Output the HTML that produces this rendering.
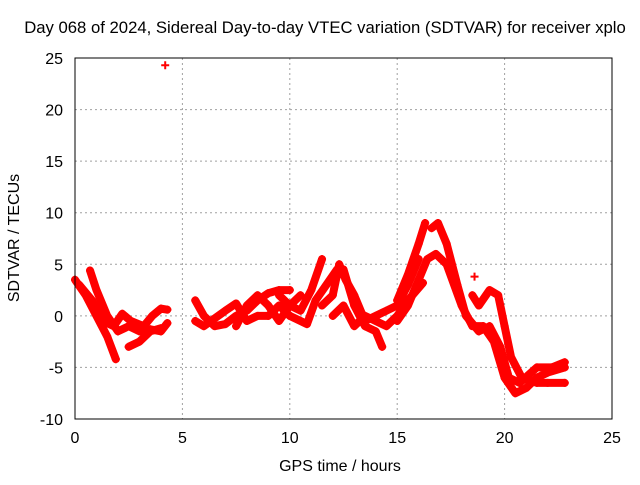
<!DOCTYPE html>
<html><head><meta charset="utf-8"><style>
body{margin:0;background:#fff}
svg text{font-family:"Liberation Sans",sans-serif;font-size:16px;fill:#000}
</style></head><body>
<svg id="c" width="640" height="480">
<text x="325" y="33" text-anchor="middle" style="font-size:16.7px">Day 068 of 2024, Sidereal Day-to-day VTEC variation (SDTVAR) for receiver xplo</text>
<text x="340" y="471" text-anchor="middle">GPS time / hours</text>
<text transform="translate(19,238) rotate(-90)" text-anchor="middle">SDTVAR / TECUs</text>
<g id="grid"></g><g id="marks"></g>
<rect x="75" y="58" width="537" height="361" fill="none" stroke="#000"/>
</svg>
<script>
const xTicks=[0,5,10,15,20,25];
const yTicks=[-10,-5,0,5,10,15,20,25];
const track1=[[0,3.5],[0.5,2],[1,0],[1.5,-2],[1.9,-4.2]];
const track2=[[0.7,4.4],[1,2.5],[1.5,0],[2,-1.5],[2.5,-1],[3,-1.5],[3.5,-1.3],[4,-1.5],[4.3,-0.7]];
const track3=[[0.2,3],[0.8,1.5],[1.3,-0.5],[1.8,-1],[2.2,0.2],[2.6,-0.5],[3.2,-1],[3.6,0],[4,0.7],[4.3,0.6]];
const track4=[[2.5,-3],[3,-2.5],[3.5,-1.5],[4,-1.2]];
const track5=[[5.6,1.5],[6,0],[6.5,-1],[7,-0.8],[7.5,0],[8,0.5],[8.5,1.5],[9,2.2],[9.5,2.5],[10,2.5]];
const track6=[[5.6,-0.5],[6,-1],[7,0.5],[7.5,1.2],[8,-0.5],[8.5,0],[9,0],[9.5,1],[10,0]];
const track7=[[7.5,-1],[8,1],[8.5,2],[9,1],[9.5,-0.5],[10,1],[10.5,2]];
const track8=[[9.5,2],[10,1],[10.5,0.5],[11,2.5],[11.5,5.5]];
const track9=[[10,0],[10.5,-0.5],[10.8,-0.8],[11.2,1.5],[11.7,3],[12.2,4.5],[12.5,4.5],[13,1],[13.5,-1],[14,-1.5],[14.3,-3]];
const track10=[[11.5,1],[12,2],[12.3,5],[12.6,3.5],[13,2],[13.5,-0.5],[14,0],[14.5,0.5],[15,1],[15.5,3],[16,5.5]];
const track11=[[12,0],[12.5,1],[13,-1],[13.5,0],[14,-0.5],[14.5,-1],[15,0],[15.5,1.5],[16.2,3.2]];
const track12=[[15,1.5],[15.5,4],[16,7],[16.3,9]];
const track13=[[15,-0.5],[15.5,1],[16,3.5],[16.4,5.5],[16.8,6],[17.3,5],[18,1],[18.5,-1],[19,-1],[19.5,-2.5],[20,-6],[20.5,-7.5],[21,-7],[21.5,-6],[22,-5.5],[22.8,-5]];
const track14=[[16.6,8.5],[16.9,9],[17.3,7],[17.8,3],[18.2,0],[18.8,-1.5],[19.3,-1],[19.8,-3],[20.2,-6],[20.7,-6.5],[21.5,-5],[22.2,-5],[22.8,-4.5]];
const track15=[[18.5,2],[18.8,1],[19.3,2.5],[19.7,2],[20,-1],[20.3,-4],[20.8,-6],[21.5,-6.5],[22,-6.5],[22.8,-6.5]];
const isolated=[[4.2,24.3],[18.6,3.8]];
const tracks=[track1,track2,track3,track4,track5,track6,track7,track8,track9,track10,track11,track12,track13,track14,track15];
const X=h=>75+h*537/25, Y=v=>419-(v+10)*361/35;
const NS='http://www.w3.org/2000/svg';
const g=document.getElementById('grid'), m=document.getElementById('marks'), svg=document.getElementById('c');
function mk(t,a,p){const e=document.createElementNS(NS,t);for(const k in a)e.setAttribute(k,a[k]);p.appendChild(e);return e;}
xTicks.forEach(t=>{
 if(t>0&&t<25){const l=mk('line',{x1:X(t),x2:X(t),y1:58,y2:419,stroke:'#a0a0a0','stroke-dasharray':'2,3'},g);
 
 }
 const tx=mk('text',{x:X(t),y:443,'text-anchor':'middle'},svg);tx.textContent=t;
 
 
});
yTicks.forEach(t=>{
 if(t>-10&&t<25){const l=mk('line',{x1:75,x2:612,y1:Y(t),y2:Y(t),stroke:'#a0a0a0','stroke-dasharray':'2,3'},g);
 
 }
 const tx=mk('text',{x:63,y:Y(t)+6,'text-anchor':'end'},svg);tx.textContent=t;
 
 
});
function plus(h,v){const x=X(h),y=Y(v);
 const p=mk('path',{d:`M${x-4},${y}H${x+4}M${x},${y-4}V${y+4}`,stroke:'#f00','stroke-width':2},m);
 
 }
tracks.forEach((tr,i)=>{
 const pl=mk('polyline',{points:tr.map(p=>X(p[0])+','+Y(p[1])).join(' '),fill:'none',stroke:'#f00','stroke-width':8,'stroke-linejoin':'round','stroke-linecap':'round'},m);
 
 
 tr.forEach(p=>plus(p[0],p[1]));
});
isolated.forEach(p=>plus(p[0],p[1]));
</script>
</body></html>
